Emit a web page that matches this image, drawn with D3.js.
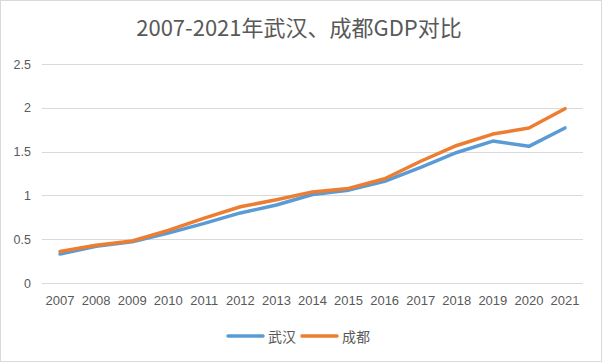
<!DOCTYPE html>
<html>
<head>
<meta charset="utf-8">
<script src="https://cdn.jsdelivr.net/npm/d3@7"></script>
<style>
  body { margin: 0; background: #fff; }
  svg { display: block; font-family: "Noto Sans CJK SC", "Liberation Sans", sans-serif; }
</style>
</head>
<body>
<svg id="chart" width="602" height="362"></svg>
<script>
var years = ["2007","2008","2009","2010","2011","2012","2013","2014","2015","2016","2017","2018","2019","2020","2021"];
var wuhan = [0.33, 0.42, 0.47, 0.57, 0.68, 0.80, 0.89, 1.01, 1.06, 1.16, 1.32, 1.49, 1.62, 1.56, 1.77];
var chengdu = [0.36, 0.43, 0.48, 0.60, 0.74, 0.87, 0.95, 1.04, 1.08, 1.19, 1.39, 1.57, 1.70, 1.77, 1.99];
var yTicks = [0, 0.5, 1, 1.5, 2, 2.5];
var seriesNames = ["武汉", "成都"];
var colors = ["#5b9bd5", "#ed7d31"];

var svg = d3.select("#chart");
var W = 602, H = 362;
var margin = { left: 42, right: 19, top: 64, bottom: 79 };

svg.append("rect")
    .attr("x", 0.5).attr("y", 0.5)
    .attr("width", W - 1).attr("height", H - 1)
    .attr("fill", "#fff").attr("stroke", "#d9d9d9");

svg.append("text")
    .attr("x", 299).attr("y", 36)
    .attr("text-anchor", "middle")
    .attr("font-size", 22)
    .attr("fill", "#595959")
    .text("2007-2021年武汉、成都GDP对比");

var x = d3.scaleBand().domain(years)
    .range([margin.left, W - margin.right]);
var y = d3.scaleLinear().domain([0, 2.5])
    .range([H - margin.bottom, margin.top]);

// grid lines
svg.append("g").selectAll("line")
    .data(yTicks)
    .enter().append("line")
    .attr("x1", margin.left).attr("x2", W - margin.right)
    .attr("y1", function (d) { return Math.round(y(d)) + 0.5; })
    .attr("y2", function (d) { return Math.round(y(d)) + 0.5; })
    .attr("stroke", "#d9d9d9");

// y axis labels
var yAxis = svg.append("g")
    .attr("transform", "translate(" + (margin.left - 11) + ",0)")
    .call(d3.axisLeft(y).tickValues(yTicks).tickSize(0).tickPadding(0)
        .tickFormat(function (d) { return String(d); }));
yAxis.select(".domain").remove();
yAxis.selectAll("text")
    .attr("font-family", "'Liberation Sans', sans-serif")
    .attr("font-size", 12.5).attr("fill", "#595959");

// x axis labels
var xAxis = svg.append("g")
    .attr("transform", "translate(0," + (H - margin.bottom + 13) + ")")
    .call(d3.axisBottom(x).tickSize(0).tickPadding(0));
xAxis.select(".domain").remove();
xAxis.selectAll("text")
    .attr("font-family", "'Liberation Sans', sans-serif")
    .attr("font-size", 13).attr("fill", "#595959");

var line = d3.line()
    .x(function (d, i) { return x(years[i]) + x.bandwidth() / 2; })
    .y(function (d) { return y(d); });

[wuhan, chengdu].forEach(function (vals, i) {
    svg.append("path")
        .datum(vals)
        .attr("d", line)
        .attr("fill", "none")
        .attr("stroke", colors[i])
        .attr("stroke-width", 3.5)
        .attr("stroke-linejoin", "round")
        .attr("stroke-linecap", "round");
});

// legend
var legendX = [228, 302];
var legend = svg.append("g");
seriesNames.forEach(function (name, i) {
    legend.append("line")
        .attr("x1", legendX[i]).attr("x2", legendX[i] + 35)
        .attr("y1", 336).attr("y2", 336)
        .attr("stroke", colors[i]).attr("stroke-width", 3.5)
        .attr("stroke-linecap", "round");
    legend.append("text")
        .attr("x", legendX[i] + 40).attr("y", 342)
        .attr("font-size", 14).attr("fill", "#595959")
        .text(name);
});
</script>
</body>
</html>
